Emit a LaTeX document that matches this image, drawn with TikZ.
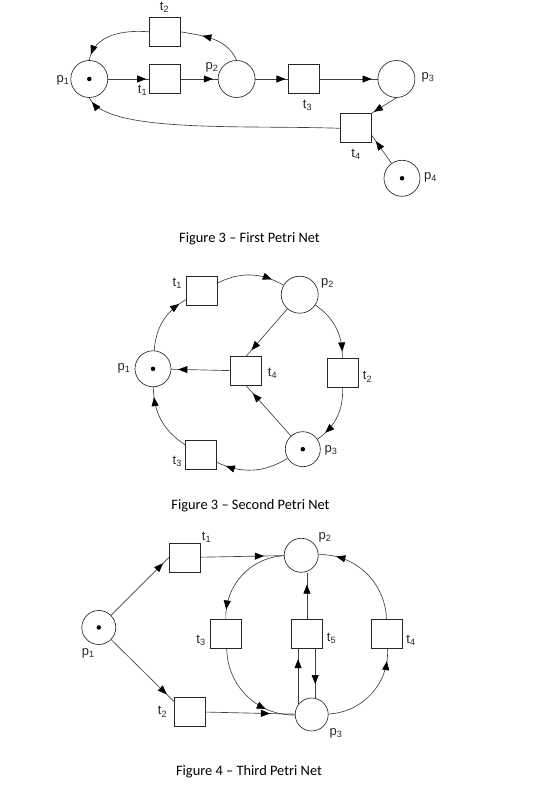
\documentclass[tikz,border=0pt]{standalone}
\usepackage{fontspec}
\setmainfont{Carlito}
\newfontfamily\labelfont{Liberation Sans}
\usetikzlibrary{arrows.meta, positioning, decorations.markings}

\begin{document}
\begin{tikzpicture}[x=1pt, y=1pt, line width=0.65pt,
		place/.style={draw=black!85, circle, minimum size=37pt, inner sep=0pt},
		trans/.style={draw=black!85, rectangle, minimum width=31pt, minimum height=29pt, inner sep=0pt},
		token/.style={fill=black, circle, inner sep=0pt, minimum size=4.5pt},
		lbl/.style={font=\labelfont\fontsize{13}{13}\selectfont, text=black!85, inner sep=0pt},
		flow/.style={draw=black!75, postaction={decorate}, decoration={markings, mark=at position -#1 with {\arrow[black]{Triangle[length=9pt, width=7pt]}}}},
		flow/.default=8pt,
		caption/.style={font=\fontsize{14.4}{16}\selectfont}]
		
		\useasboundingbox (0,0) rectangle (559,785);
		
		% Prima rete
		\node [place] (a-p1) at (89.3,706) {};
		\node [token] (a-k1) at (a-p1) {};
		\node [trans, right=41pt of a-p1] (a-t1) {};
		\node [place, right=37pt of a-t1] (a-p2) {};
		\node [trans, above=17.5pt of a-t1] (a-t2) {};
		\node [trans, right=33pt of a-p2] (a-t3) {};
		\node [place, right=57.5pt of a-t3] (a-p3) {};
		\node [trans] (a-t4) at (355.5,656.7) {};
		\node [place, minimum size=36pt] (a-p4) at (402,606.7) {};
		\node [token] (a-k4) at (a-p4) {};
		
		% Etichette
		\node [lbl] (a-l1) at (63,705) {p\textsubscript{1}};
		\node [lbl] (a-l2) at (212,718) {p\textsubscript{2}};
		\node [lbl] (a-l3) at (428,708) {p\textsubscript{3}};
		\node [lbl] (a-l4) at (430.5,608) {p\textsubscript{4}};
		\node [lbl] (a-m1) at (142.5,695) {t\textsubscript{1}};
		\node [lbl] (a-m2) at (164.5,778) {t\textsubscript{2}};
		\node [lbl] (a-m3) at (307.5,680) {t\textsubscript{3}};
		\node [lbl] (a-m4) at (356,631) {t\textsubscript{4}};
		
		% Archi
		\draw [flow=3pt] (a-p1) -- (a-t1);
		\draw [flow=5pt] (a-t1) -- (a-p2);
		\draw [flow=3pt] (a-p2) -- (a-t3);
		\draw [flow=6pt] (a-t3) -- (a-p3);
		\draw [flow=22pt] (a-p2.north) to[out=115, in=-10] (a-t2.east);
		\draw [flow=6pt] (a-t2.west) to[out=175, in=80] (a-p1.north);
		\draw [flow=3pt] (a-p3.south) -- (a-t4.north east);
		\draw [flow=8pt] (a-p4) -- (a-t4.-22);
		\draw [flow=5pt] (a-t4.west) to[out=178, in=-65, in looseness=0.4] (a-p1.south);
		
		\node [caption] (cap1) at (249.5,546) {Figure 3 -- First Petri Net};
		
		% Seconda rete
		\node [place, minimum size=36pt] (b-p1) at (153,416.2) {};
		\node [token] (b-k1) at (b-p1) {};
		\node [trans] (b-t1) at (201.7,494.5) {};
		\node [place] (b-p2) at (299.7,490.3) {};
		\node [trans] (b-t4) at (246.2,414) {};
		\node [trans] (b-t2) at (342.5,411.7) {};
		\node [place, minimum size=35pt] (b-p3) at (302.8,335.8) {};
		\node [token] (b-k3) at (b-p3) {};
		\node [trans] (b-t3) at (200.8,330) {};
		
		% Etichette
		\node [lbl] (b-l1) at (124,417) {p\textsubscript{1}};
		\node [lbl] (b-l2) at (327.5,501.7) {p\textsubscript{2}};
		\node [lbl] (b-l3) at (331,335) {p\textsubscript{3}};
		\node [lbl] (b-m1) at (177.3,501.7) {t\textsubscript{1}};
		\node [lbl] (b-m2) at (367.5,408.3) {t\textsubscript{2}};
		\node [lbl] (b-m3) at (177.3,323.3) {t\textsubscript{3}};
		\node [lbl] (b-m4) at (272.5,411.7) {t\textsubscript{4}};
		
		% Archi
		\draw [flow=8pt] (b-p1) to[bend left=28] (b-t1);
		\draw [flow=13pt] (b-t1) to[bend left=28] (b-p2);
		\draw [flow=7pt] (b-p2) to[bend left=28] (b-t2);
		\draw [flow=10pt] (b-t2) to[bend left=28] (b-p3);
		\draw [flow=10pt] (b-p3) to[bend left=28] (b-t3);
		\draw [flow=10pt] (b-t3) to[bend left=28] (b-p1);
		\draw [flow=8pt] (b-p2) -- (b-t4.north);
		\draw [flow=10pt] (b-p3) -- (b-t4.south);
		\draw [flow=7pt] (b-t4) -- (b-p1);
		
		\node [caption] (cap2) at (250.5,279.3) {Figure 3 -- Second Petri Net};
		
		% Terza rete
		\node [place, minimum size=34pt] (c-p1) at (98.8,157.5) {};
		\node [token] (c-k1) at (c-p1) {};
		\node [trans] (c-t1) at (184.7,227.5) {};
		\node [trans] (c-t2) at (189.7,73.3) {};
		\node [place, minimum size=34pt] (c-p2) at (301.2,229.7) {};
		\node [trans] (c-t3) at (226.3,150.7) {};
		\node [trans, right=49pt of c-t3] (c-t5) {};
		\node [trans, right=48.5pt of c-t5] (c-t4) {};
		\node [place, minimum size=33pt] (c-p3) at (311.7,70.5) {};
		
		% Etichette
		\node [lbl] (c-l1) at (88.3,131.7) {p\textsubscript{1}};
		\node [lbl] (c-l2) at (325,247.5) {p\textsubscript{2}};
		\node [lbl] (c-l3) at (336,51.7) {p\textsubscript{3}};
		\node [lbl] (c-m1) at (206.5,248) {t\textsubscript{1}};
		\node [lbl] (c-m2) at (162.5,73.3) {t\textsubscript{2}};
		\node [lbl] (c-m3) at (201,145) {t\textsubscript{3}};
		\node [lbl] (c-m5) at (331.5,146.7) {t\textsubscript{5}};
		\node [lbl] (c-m4) at (411,145) {t\textsubscript{4}};
		
		% Archi
		\draw [flow=8pt] (c-p1) -- (c-t1.west);
		\draw [flow=10pt] (c-p1) -- (c-t2.147);
		\draw [flow=20pt] (c-t1) -- (c-p2);
		\draw [flow=25pt] (c-t2) -- (c-p3);
		\draw [flow=10pt] (c-p2) to[bend right=45] (c-t3);
		\draw [flow=30pt] (c-t3) to[bend right=45] (c-p3);
		\draw [flow=12pt] (c-p3) to[bend right=45] (c-t4);
		\draw [flow=18pt] (c-t4) to[bend right=45] (c-p2);
		\draw [flow=12pt] (c-t5.north) -- (c-t5.north |- c-p2.south);
		\draw [flow=10pt] (c-p3.144) -- (c-p3.144 |- c-t5.south);
		\draw [flow=14pt] (c-p3.78 |- c-t5.south) -- (c-p3.78);
		
		\node [caption] (cap3) at (249,13) {Figure 4 -- Third Petri Net};
		
	\end{tikzpicture}
\end{document}
